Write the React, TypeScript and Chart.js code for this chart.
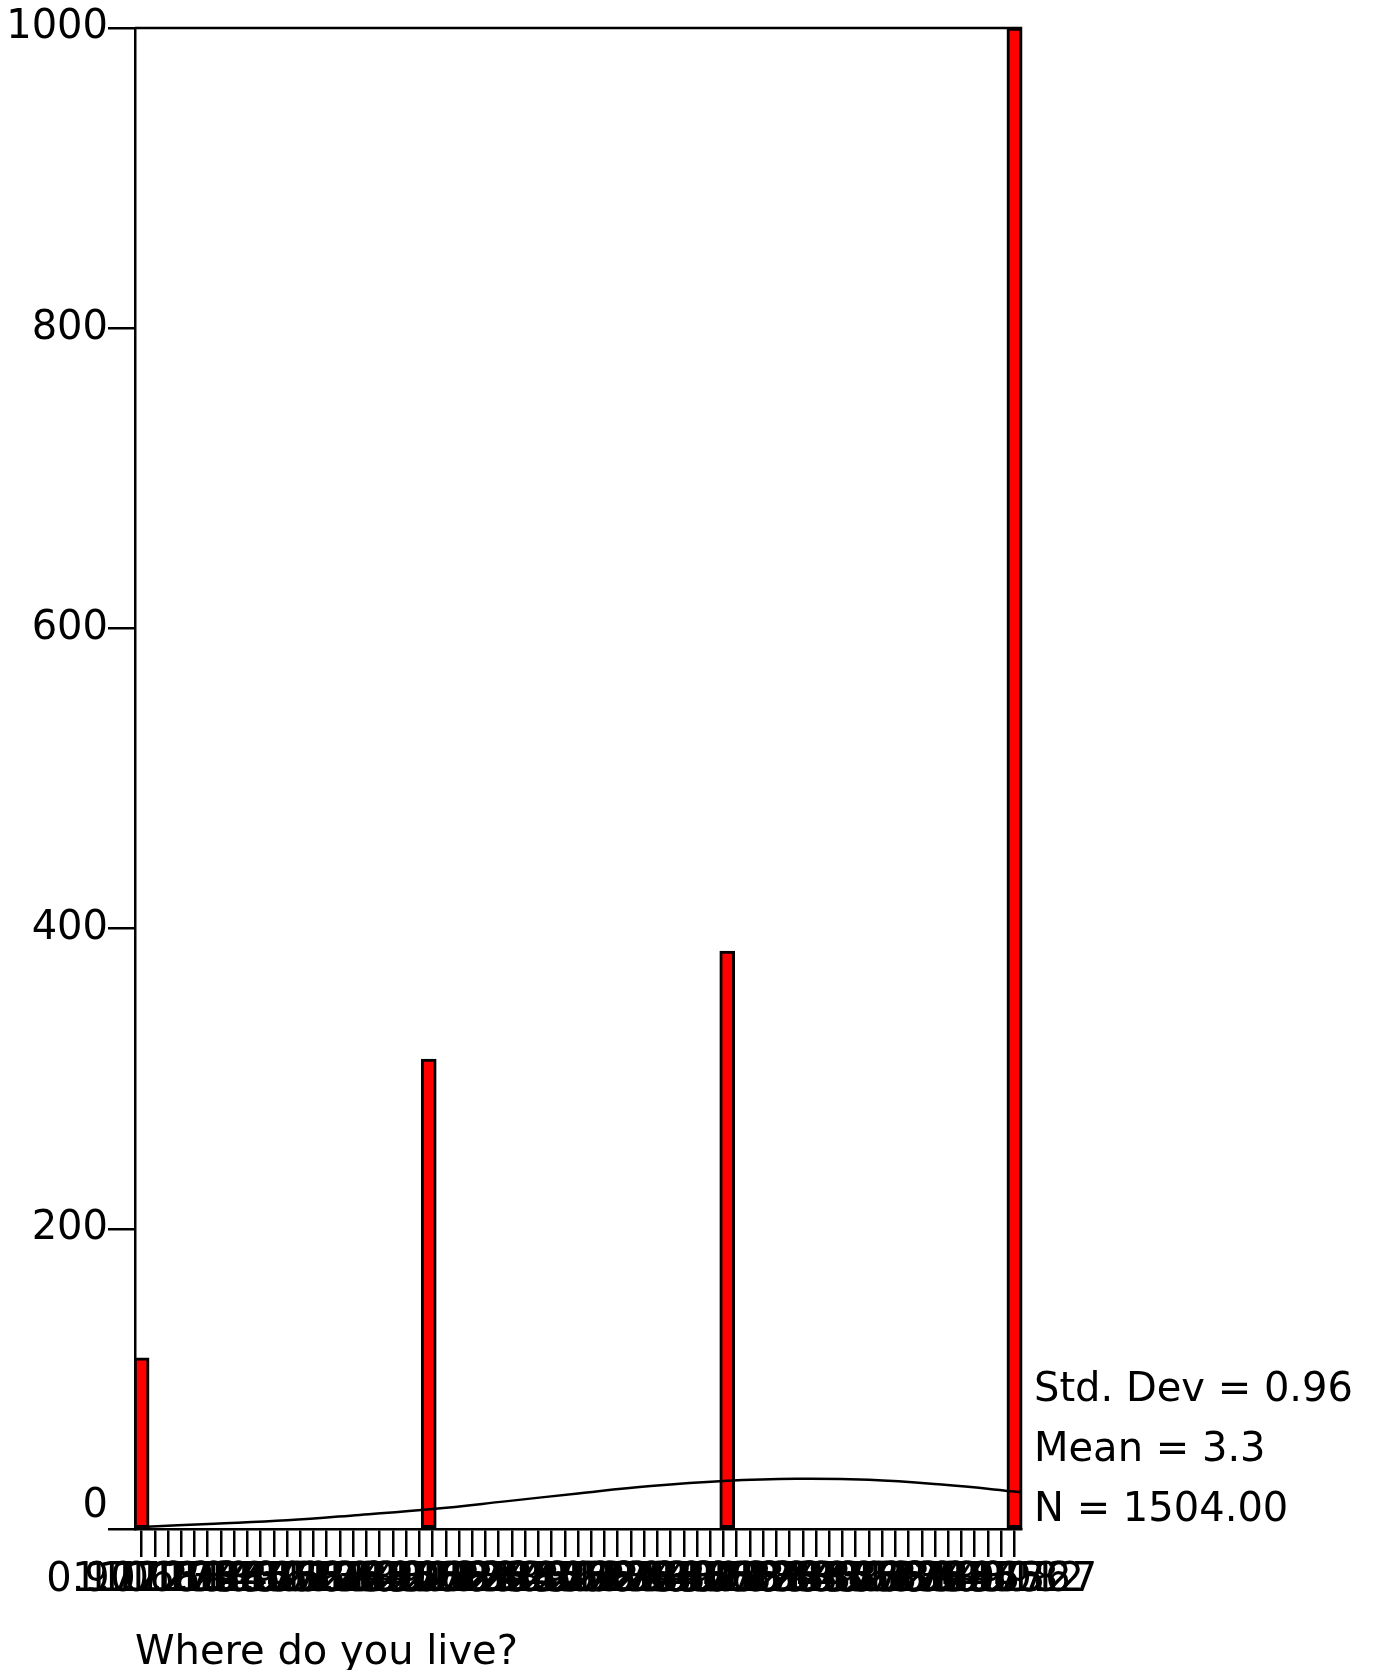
import React, { useEffect, useRef } from 'react';
import { Chart, registerables } from 'chart.js';

Chart.register(...registerables);

// Tick labels of the 67 histogram ticks (as printed, overlapping)
const binLabels = [
  '0.977273', '1.02273', '1.06818', '1.11364', '1.15909', '1.20455', '1.25', '1.29545', '1.34091', '1.38636',
  '1.43182', '1.47727', '1.52273', '1.56818', '1.61364', '1.65909', '1.70455', '1.75', '1.79545', '1.84091',
  '1.88636', '1.93182', '1.97727', '2.02273', '2.06818', '2.11364', '2.15909', '2.20455', '2.25', '2.29545',
  '2.34091', '2.38636', '2.43182', '2.47727', '2.52273', '2.56818', '2.61364', '2.65909', '2.70455', '2.75',
  '2.79545', '2.84091', '2.88636', '2.93182', '2.97727', '3.02273', '3.06818', '3.11364', '3.15909', '3.20455',
  '3.25', '3.29545', '3.34091', '3.38636', '3.43182', '3.47727', '3.52273', '3.56818', '3.61364', '3.65909',
  '3.70455', '3.75', '3.79545', '3.84091', '3.88636', '3.93182', '3.97727',
];

// Value range of the horizontal axis (edges of the plot)
const xRange = [0.977273, 4.022727];

// Bars: position on the value axis and count
const barX = [1.0, 1.987, 3.013, 4.0];
const barCounts = [114, 313, 385, 1000];

// Normal curve
const curveX = [1.0, 1.25, 1.5, 1.75, 2.0, 2.25, 2.5, 2.75, 3.0, 3.25, 3.5, 3.75, 4.0, 4.022];
const curveY = [1.4, 3.5, 5.8, 9.4, 13.3, 18.4, 23.7, 28.6, 32.0, 33.5, 32.8, 29.6, 25.0, 24.4];

const yTicks = [0, 200, 400, 600, 800, 1000];
const statsLines = ['Std. Dev = 0.96', 'Mean = 3.3', 'N = 1504.00'];
const xTitle = 'Where do you live?';

const FONT = '"DejaVu Sans", "Liberation Sans", sans-serif';

export default function App() {
  const ref = useRef<HTMLCanvasElement | null>(null);

  useEffect(() => {
    const canvas = ref.current;
    if (!canvas) return;

    const barData = barX.map((x, i) => ({ x, y: barCounts[i] }));
    const curveData = curveX.map((x, i) => ({ x, y: curveY[i] }));

    const framePlugin = {
      id: 'frame',
      afterDatasetsDraw(chart: any) {
        const { ctx, chartArea } = chart;
        ctx.save();
        ctx.strokeStyle = '#000';
        ctx.lineWidth = 2.5;
        ctx.beginPath();
        ctx.moveTo(chartArea.left, chartArea.top);
        ctx.lineTo(chartArea.right, chartArea.top);
        ctx.lineTo(chartArea.right, chartArea.bottom);
        ctx.stroke();
        ctx.restore();
      },
    };

    const statsPlugin = {
      id: 'stats',
      afterDraw(chart: any) {
        const { ctx, chartArea } = chart;
        ctx.save();
        ctx.font = `40px ${FONT}`;
        ctx.fillStyle = '#000';
        ctx.textAlign = 'left';
        ctx.textBaseline = 'alphabetic';
        const x = chartArea.right + 13;
        const base = chartArea.bottom - 8;
        for (let i = 0; i < statsLines.length; i++) {
          ctx.fillText(statsLines[i], x, base - (statsLines.length - 1 - i) * 60);
        }
        ctx.restore();
      },
    };

    const chart = new Chart(canvas, {
      type: 'bar',
      data: {
        labels: binLabels,
        datasets: [
          {
            type: 'line',
            xAxisID: 'xv',
            data: curveData,
            borderColor: '#000',
            borderWidth: 2.5,
            pointRadius: 0,
            fill: false,
            tension: 0.4,
            order: 0,
          } as any,
          {
            type: 'bar',
            xAxisID: 'xv',
            data: barData,
            backgroundColor: '#ff0000',
            borderColor: '#000',
            borderWidth: 3,
            borderSkipped: false,
            barThickness: 15,
            order: 1,
          } as any,
        ],
      },
      options: {
        responsive: false,
        animation: false,
        devicePixelRatio: 1,
        layout: { padding: { top: 28, right: 354, left: 0, bottom: 0 } },
        plugins: {
          legend: { display: false },
          tooltip: { enabled: false },
          title: { display: false },
        },
        scales: {
          x: {
            type: 'category',
            offset: true,
            grid: {
              offset: false,
              drawOnChartArea: false,
              drawTicks: true,
              tickLength: 28,
              color: '#000',
              lineWidth: 2.5,
            },
            border: { display: true, color: '#000', width: 2.5 },
            ticks: {
              autoSkip: false,
              maxRotation: 0,
              minRotation: 0,
              padding: 0,
              color: '#000',
              font: { family: FONT, size: 40 },
            },
            title: {
              display: true,
              text: xTitle,
              align: 'start',
              color: '#000',
              padding: 0,
              font: { family: FONT, size: 40, lineHeight: 0.8 },
            },
            afterFit(scale: any) {
              scale.height = 141;
            },
          },
          xv: {
            type: 'linear',
            display: false,
            offset: false,
            min: xRange[0],
            max: xRange[1],
          },
          y: {
            type: 'linear',
            min: 0,
            max: 1000,
            grid: {
              drawOnChartArea: false,
              drawTicks: true,
              tickLength: 27,
              color: '#000',
              lineWidth: 2.5,
            },
            border: { display: true, color: '#000', width: 2.5 },
            afterBuildTicks(scale: any) {
              scale.ticks = yTicks.map((v) => ({ value: v }));
            },
            ticks: {
              padding: 0,
              color: '#000',
              font: { family: FONT, size: 40, lineHeight: 1.14 },
              callback: (value: any) => (Number(value) === 0 ? ['0', ''] : String(value)),
            },
            afterFit(scale: any) {
              scale.width = 135;
            },
          },
        },
      },
      plugins: [framePlugin, statsPlugin],
    });

    return () => chart.destroy();
  }, []);

  return (
    <div style={{ position: 'absolute', left: 0, top: 0, width: 1375, height: 1670, background: '#fff' }}>
      <canvas ref={ref} width={1375} height={1670} style={{ display: 'block', width: 1375, height: 1670 }} />
    </div>
  );
}
